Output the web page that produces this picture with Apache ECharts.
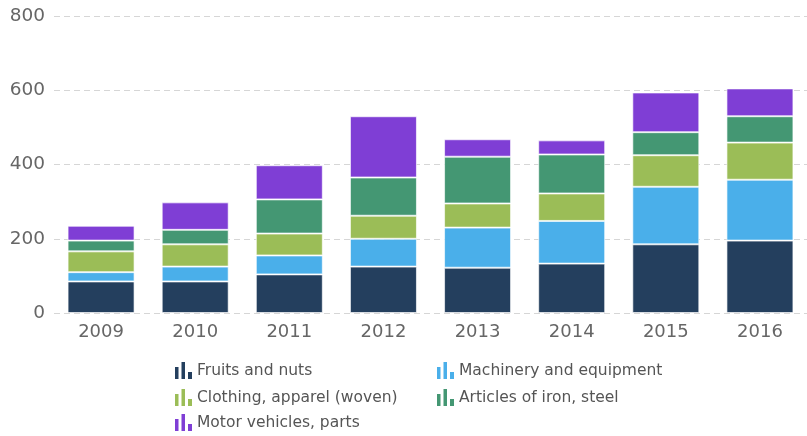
<!DOCTYPE html>
<html><head><meta charset="utf-8">
<script src="https://cdn.jsdelivr.net/npm/echarts@6/dist/echarts.min.js"></script>
<style>html,body{margin:0;padding:0;background:#fff}#c{width:807px;height:436px}</style>
</head><body><div id="c"></div>
<script>
const years = ['2009','2010','2011','2012','2013','2014','2015','2016'];
const fruitsNuts = [85, 85, 104, 125, 122, 133, 185, 195];
const machinery = [25, 40, 51, 75, 108, 115, 155, 164];
const clothing = [56, 60, 59, 62, 65, 74, 85, 100];
const ironSteel = [29, 39, 92, 103, 126, 105, 62, 71];
const motorVehicles = [40, 74, 92, 165, 47, 38, 107, 75];
const yTicks = [0, 200, 400, 600, 800];

const names = ['Fruits and nuts','Machinery and equipment','Clothing, apparel (woven)','Articles of iron, steel','Motor vehicles, parts'];
const colors = ['#243F5E','#4AAFEA','#9BBD57','#449773','#7F3ED5'];
const dataSets = [fruitsNuts, machinery, clothing, ironSteel, motorVehicles];
const legendPos = [[175,362],[437,362],[175,389],[437,389],[175,414]];
const icon = 'path://M0,5L3.5,5L3.5,17L0,17Z M6.5,0L10,0L10,17L6.5,17Z M13,10L17,10L17,17L13,17Z';

const chart = echarts.init(document.getElementById('c'), null, {renderer:'canvas'});
chart.setOption({
  animation:false,
  color: colors,
  grid:{left:54, top:16, width:763, height:297},
  xAxis:{type:'category', data:years,
    axisLine:{show:false}, axisTick:{show:false},
    axisLabel:{color:'#666', fontSize:18, fontFamily:'DejaVu Sans', margin:10}},
  yAxis:{type:'value', min:yTicks[0], max:yTicks[yTicks.length-1], interval:200,
    axisLine:{show:false}, axisTick:{show:false},
    axisLabel:{color:'#666', fontSize:18.5, fontFamily:'DejaVu Sans', margin:9},
    splitLine:{lineStyle:{color:'#d6d6d6', type:[6,4], width:1}}},
  legend: names.map((n,i)=>({
    data:[n], left:legendPos[i][0], top:legendPos[i][1], icon:icon,
    itemWidth:17, itemHeight:17, itemGap:0, padding:0,
    itemStyle:{borderWidth:0, color:colors[i]},
    textStyle:{color:'#555', fontSize:15.5, fontFamily:'DejaVu Sans'}
  })),
  series: names.map((n,i)=>({
    name:n, type:'bar', stack:'total', data:dataSets[i], barWidth:67,
    itemStyle:{color:colors[i], borderColor:'rgba(255,255,255,0.65)', borderWidth:1}
  }))
});
</script></body></html>
